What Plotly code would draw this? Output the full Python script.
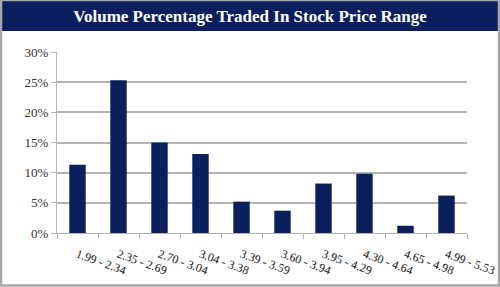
import plotly.graph_objects as go

categories = ["1.99 - 2.34", "2.35 - 2.69", "2.70 - 3.04", "3.04 - 3.38", "3.39 - 3.59",
              "3.60 - 3.94", "3.95 - 4.29", "4.30 - 4.64", "4.65 - 4.98", "4.99 - 5.53"]
values = [11.3, 25.3, 15.0, 13.1, 5.2, 3.7, 8.2, 9.8, 1.2, 6.2]
y_ticks = [0, 5, 10, 15, 20, 25, 30]
y_tick_labels = ["0%", "5%", "10%", "15%", "20%", "25%", "30%"]
title_text = "Volume Percentage Traded In Stock Price Range"

NAVY = "#0b1f5f"
GRID = "#b4b4b4"
FONT = "Liberation Serif, Times New Roman, serif"

W, H = 500, 287
L, R, T, B = 57, 33, 52, 54
pw, ph = W - L - R, H - T - B

def px(x):
    return (x - L) / pw

def py(y):
    return (H - B - y) / ph

fig = go.Figure(go.Bar(x=categories, y=values, marker=dict(color=NAVY, line=dict(width=0))))

# category labels, rotated, anchored at category centers on the axis
label_annotations = [
    dict(x=c, y=0, xref="x", yref="y", text=c, showarrow=False, textangle=20,
         xanchor="left", yanchor="top", xshift=-6, yshift=-11,
         font=dict(family=FONT, size=12, color="#222222"))
    for c in categories
]

fig.update_layout(
    width=W, height=H,
    margin=dict(l=L, r=R, t=T, b=B),
    paper_bgcolor="white", plot_bgcolor="white",
    bargap=0.6,
    showlegend=False,
    font=dict(family=FONT, color="#222222"),
    title=dict(text="<b>" + title_text + "</b>", x=0.5, xanchor="center",
               y=1 - 16 / H, yanchor="middle",
               font=dict(family=FONT, size=17, color="white")),
    annotations=label_annotations,
    shapes=[
        dict(type="rect", xref="paper", yref="paper", x0=px(0), x1=px(W), y0=py(31), y1=py(0),
             fillcolor=NAVY, line=dict(width=0), layer="below"),
        dict(type="rect", xref="paper", yref="paper", x0=px(1), x1=px(W - 1), y0=py(H - 1.5), y1=py(0),
             fillcolor="rgba(0,0,0,0)", line=dict(color="#a8a8a8", width=2.5)),
    ],
)

fig.update_xaxes(
    type="category",
    range=[-0.5, len(categories) - 0.5],
    ticks="outside", ticklen=5, tickcolor=GRID, tickson="boundaries",
    showticklabels=False,
    showline=True, linecolor=GRID, linewidth=1,
    showgrid=False,
)
fig.update_yaxes(
    range=[0, 30],
    tickvals=y_ticks, ticktext=y_tick_labels,
    ticks="outside", ticklen=5, tickcolor=GRID,
    showline=True, linecolor=GRID, linewidth=1,
    showgrid=True, gridcolor=GRID, gridwidth=1.5,
    tickfont=dict(family=FONT, size=13, color="#333333"),
    zeroline=False,
)

fig.write_html("out.html")
